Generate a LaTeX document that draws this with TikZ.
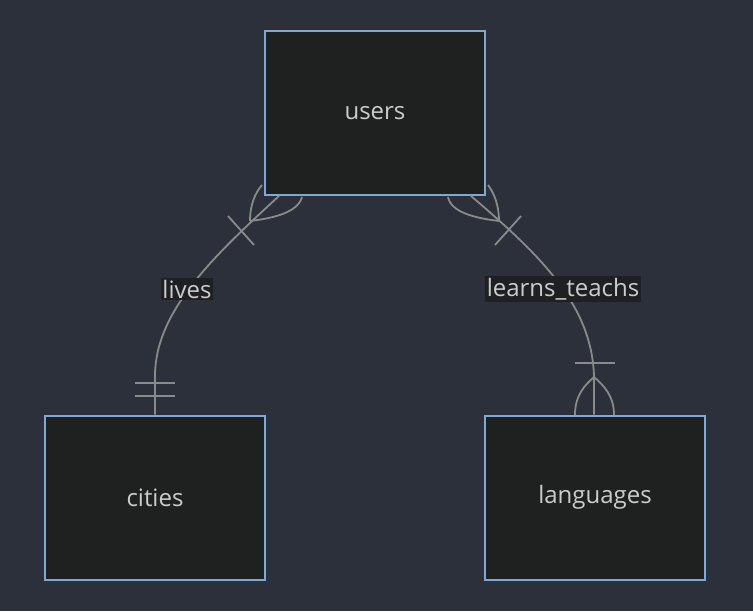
\documentclass[tikz,border=0pt]{standalone}
\usepackage{fontspec}
\setmainfont{Open Sans}
\usetikzlibrary{calc}
\definecolor{bgc}{HTML}{2B303B}
\definecolor{boxfill}{HTML}{1F2020}
\definecolor{boxline}{HTML}{81A8D2}
\definecolor{txt}{HTML}{CCCCCC}
\definecolor{edgec}{HTML}{8A8A8A}
\definecolor{lblbg}{HTML}{1F2022}
\tikzset{
  entity/.style={draw=boxline, line width=2pt, fill=boxfill, minimum width=220pt, minimum height=164pt, inner sep=0pt, text=txt, font=\fontsize{24}{28}\selectfont},
  rel/.style={draw=edgec, line width=1.8pt},
  lbl/.style={fill=lblbg, text=txt, inner xsep=1.5pt, inner ysep=2pt, font=\fontsize{24}{28}\selectfont}
}
\begin{document}
\begin{tikzpicture}[x=1pt,y=-1pt]
\fill[bgc] (0,0) rectangle (753,611);
\useasboundingbox (0,0) rectangle (753,611);
\node[entity] (users) at (375,113) {users};
\node[entity] (cities) at (155,497.5) {cities};
\node[entity] (languages) at (595,497.5) {languages};
% lives edge
\coordinate (l1) at ($(users.south west)+(15,0)$);
\coordinate (l2) at ($(cities.north)+(0,-40)$);
\draw[rel] (l1) .. controls (215,255) and (156,310) .. (l2) -- (cities.north);
\node[lbl] (livesl) at (187,289) {lives};
% users end of lives: one or more
\draw[rel] ($(users.south west)+(-2,-11)$) .. controls (255,193) and (250,205) .. (250,221);
\draw[rel] ($(users.south west)+(38,1)$) .. controls (298,212) and (275,218) .. (250,221);
\draw[rel] (228,216) -- (254,245);
% cities end: exactly one
\draw[rel] (135,383) -- (175,383);
\draw[rel] (135,396) -- (175,396);
% learns_teachs edge
\coordinate (r1) at ($(users.south east)+(-15,0)$);
\coordinate (r2) at ($(languages.north)+(-1,-38)$);
\draw[rel] (r1) .. controls (540,255) and (592,305) .. (r2) -- ($(languages.north)+(-1,0)$);
\node[lbl] (learnsl) at (563,289) {learns\_teachs};
% users end of learns_teachs: one or more
\draw[rel] ($(users.south east)+(2,-11)$) .. controls (494,193) and (499,205) .. (499,221);
\draw[rel] ($(users.south east)+(-38,1)$) .. controls (451,212) and (474,218) .. (499,221);
\draw[rel] (521,216) -- (495,245);
% languages end: one or more
\draw[rel] (575,415) .. controls (575,395) and (585,385) .. (594,377);
\draw[rel] (614,415) .. controls (614,395) and (603,385) .. (594,377);
\draw[rel] (575,363) -- (615,363);
\end{tikzpicture}
\end{document}
